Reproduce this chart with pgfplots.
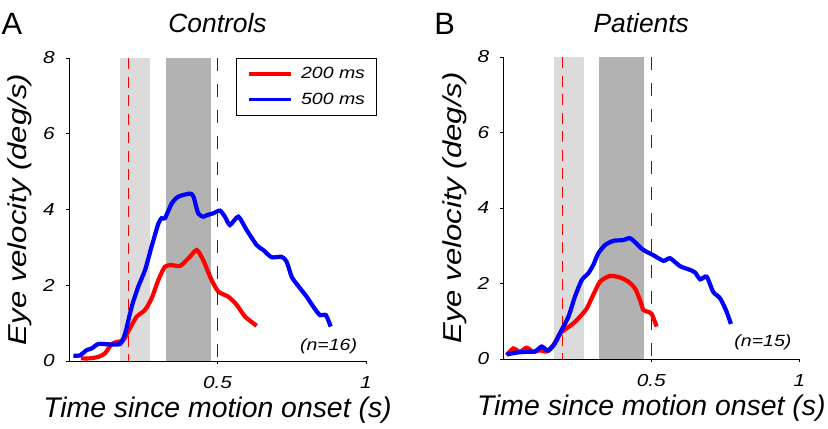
\documentclass[border=0pt]{standalone}
\usepackage{fontspec}
\setmainfont{Liberation Sans}
\newfontfamily\widesans{Liberation Sans}[FakeStretch=1.2]
\usepackage{pgfplots}
\pgfplotsset{compat=1.18}

\definecolor{bandlight}{gray}{0.86}
\definecolor{banddark}{gray}{0.70}
\definecolor{dashblue}{RGB}{20,20,235}

\pgfplotsset{
  panel/.style={
    scale only axis,
    xmin=0, xmax=1, ymin=0, ymax=8,
    axis lines=left,
    axis line style={-, line width=0.8bp},
    xtick={0.5,1}, ytick={0,2,4,6,8},
    tick align=outside, major tick length=3bp,
    tick style={black, line width=0.8bp},
    ticklabel style={font=\widesans\fontsize{17.4}{21}\selectfont\itshape},
    /pgf/number format/assume math mode=true,
    xticklabel style={inner sep=0pt, anchor=north, yshift=-12bp},
    yticklabel style={inner sep=0pt, anchor=east, xshift=-11bp},
    xlabel={Time since motion onset (s)},
    ylabel={Eye velocity (deg/s)},
    xlabel style={font=\fontsize{28.5}{33}\selectfont\itshape,
      at={(axis description cs:0.5,-0.162)}, anchor=center},
    ylabel style={font=\widesans\fontsize{26}{31}\selectfont\itshape,
      at={(axis description cs:-0.165,0.5)}, anchor=center},
    title style={font=\fontsize{26.5}{31}\selectfont\itshape, anchor=center, yshift=0pt},
    clip=false,
  },
  curve/.style={line width=4.2bp, smooth, tension=0.4},
  reddash/.style={draw=red, line width=1.2bp, dash pattern=on 11bp off 7.5bp, forget plot},
  bluedash/.style={draw=dashblue, line width=1.4bp, dash pattern=on 13bp off 13bp, forget plot},
}

\begin{document}
\begin{tikzpicture}
\useasboundingbox (0,0) rectangle (828bp,429bp);

% panel A
\begin{axis}[panel,
  at={(69bp,68bp)}, anchor=south west,
  width=297bp, height=303bp,
  title={Controls},
  title style={at={(axis description cs:0.5,1.094)}},
  legend style={at={(axis description cs:0.562,1.0)}, anchor=north west,
    draw=black, line width=0.8bp,
    font=\widesans\fontsize{16.3}{19}\selectfont\itshape,
    inner xsep=11bp, inner ysep=9bp,
    nodes={inner sep=0pt},
    column sep=8bp, row sep=13bp},
  legend image code/.code={\draw[#1, line width=3.4bp] (0bp,0bp) -- (42.4bp,0bp);},
]
\addplot[fill=bandlight, draw=none, forget plot] coordinates {(0.172,8) (0.273,8)} \closedcycle;
\addplot[fill=banddark, draw=none, forget plot] coordinates {(0.326,8) (0.477,8)} \closedcycle;
\addplot[reddash] coordinates {(0.2,8) (0.2,0)};
\addplot[bluedash] coordinates {(0.5,8) (0.5,0)};

\addplot[red, curve] coordinates {
(0.040,0.07) (0.07,0.07) (0.099,0.11) (0.121,0.20) (0.144,0.45) (0.166,0.51)
(0.183,0.55) (0.205,0.86) (0.228,1.17) (0.256,1.35) (0.278,1.65) (0.301,2.14)
(0.323,2.49) (0.346,2.53) (0.374,2.51) (0.402,2.71) (0.430,2.93) (0.452,2.66)
(0.480,2.14) (0.503,1.83) (0.536,1.70) (0.565,1.48) (0.593,1.17) (0.632,0.93)
};
\addlegendentry{200 ms}
\addplot[blue, curve] coordinates {
(0.015,0.14) (0.037,0.15) (0.06,0.29) (0.076,0.33) (0.099,0.45) (0.132,0.44)
(0.172,0.45) (0.189,0.73) (0.211,1.43) (0.233,1.96) (0.256,2.40) (0.278,3.02)
(0.301,3.63) (0.312,3.77) (0.323,3.77) (0.346,4.16) (0.368,4.34) (0.407,4.42)
(0.419,4.34) (0.435,3.90) (0.452,3.81) (0.464,3.85) (0.486,3.90) (0.508,3.97)
(0.525,3.81) (0.542,3.59) (0.570,3.81) (0.598,3.46) (0.632,3.06) (0.654,2.93)
(0.682,2.74) (0.716,2.75) (0.733,2.62) (0.750,2.22) (0.772,1.98) (0.800,1.70)
(0.823,1.43) (0.845,1.21) (0.865,1.21) (0.881,0.91)
};
\addlegendentry{500 ms}
\node[font=\widesans\fontsize{16.3}{19}\selectfont\itshape] at (axis cs:0.874,0.40) {(n=16)};
\end{axis}

% panel B
\begin{axis}[panel,
  at={(503.3bp,70bp)}, anchor=south west,
  width=296bp, height=302bp,
  title={Patients},
  title style={at={(axis description cs:0.466,1.094)}},
]
\addplot[fill=bandlight, draw=none, forget plot] coordinates {(0.172,8) (0.274,8)} \closedcycle;
\addplot[fill=banddark, draw=none, forget plot] coordinates {(0.324,8) (0.476,8)} \closedcycle;
\addplot[reddash] coordinates {(0.2,8) (0.2,0)};
\addplot[bluedash] coordinates {(0.5,8) (0.5,0)};

\addplot[red, curve] coordinates {
(0.011,0.10) (0.034,0.28) (0.056,0.19) (0.079,0.30) (0.101,0.19) (0.124,0.23)
(0.146,0.20) (0.169,0.37) (0.192,0.68) (0.214,0.81) (0.236,0.94) (0.259,1.12)
(0.282,1.34) (0.304,1.70) (0.327,2.05) (0.360,2.20) (0.394,2.16) (0.422,2.05)
(0.445,1.87) (0.462,1.56) (0.473,1.30) (0.490,1.25) (0.501,1.20) (0.518,0.86)
};
\addplot[blue, curve] coordinates {
(0.011,0.12) (0.045,0.17) (0.079,0.19) (0.107,0.20) (0.130,0.33) (0.152,0.22)
(0.175,0.42) (0.197,0.77) (0.220,1.12) (0.242,1.65) (0.265,2.09) (0.287,2.27)
(0.304,2.49) (0.321,2.80) (0.344,3.02) (0.372,3.13) (0.405,3.15) (0.428,3.20)
(0.451,3.05) (0.466,2.93) (0.484,2.84) (0.507,2.75) (0.541,2.60) (0.563,2.67)
(0.597,2.46) (0.631,2.36) (0.648,2.29) (0.665,2.11) (0.687,2.18) (0.709,1.78)
(0.732,1.61) (0.752,1.30) (0.769,0.93)
};
\node[font=\widesans\fontsize{16.3}{19}\selectfont\itshape] at (axis cs:0.877,0.45) {(n=15)};
\end{axis}

\node[font=\fontsize{31}{35}\selectfont] at (12bp,405bp) {A};
\node[font=\fontsize{31}{35}\selectfont] at (444.7bp,405bp) {B};
\end{tikzpicture}
\end{document}
